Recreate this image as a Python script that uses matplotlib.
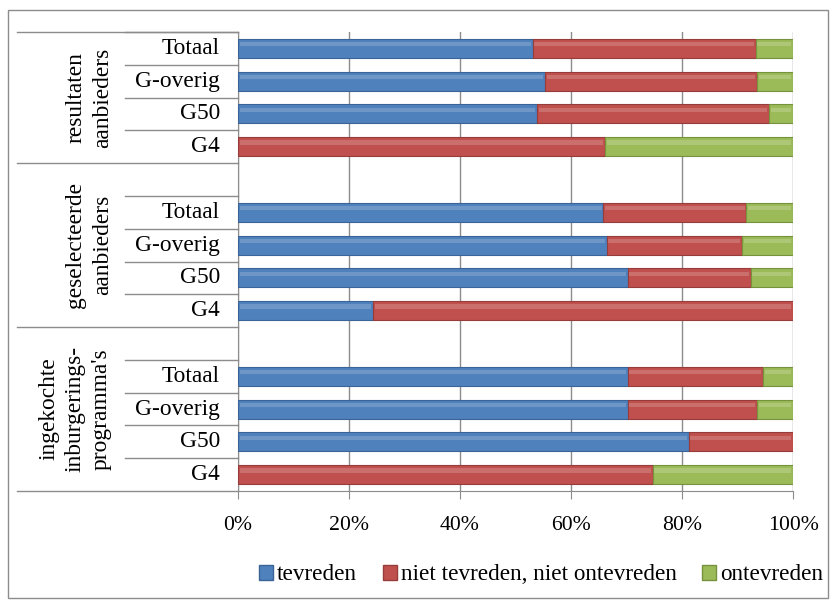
#!/usr/bin/env python3
"""Tevredenheid over aanbieders en inburgeringsprogramma's (stacked bars)."""

import matplotlib

matplotlib.use("Agg")
import matplotlib.pyplot as plt
from matplotlib.patches import Patch, Rectangle

# Data, top to bottom within each group
groups = ["resultaten\naanbieders", "geselecteerde\naanbieders", "ingekochte\ninburgerings-\nprogramma's"]
categories = ["Totaal", "G-overig", "G50", "G4"]
series = ["tevreden", "niet tevreden, niet ontevreden", "ontevreden"]

tevreden = [
    [53.1, 55.3, 53.9, 0.0],
    [65.8, 66.4, 70.2, 24.3],
    [70.2, 70.2, 81.2, 0.0],
]
neutraal = [
    [40.2, 38.2, 41.8, 66.1],
    [25.8, 24.4, 22.2, 75.7],
    [24.4, 23.3, 18.8, 74.7],
]
ontevreden = [
    [6.7, 6.5, 4.3, 33.9],
    [8.4, 9.2, 7.6, 0.0],
    [5.4, 6.5, 0.0, 25.3],
]

COLORS = ["#4f81bd", "#c0504d", "#9bbb59"]
EDGES = ["#3a6398", "#963c3a", "#76923c"]
LINE = "#8c8c8c"
FONT = ["Liberation Serif", "DejaVu Serif"]

plt.rcParams["font.family"] = FONT

W, H = 830, 600
fig = plt.figure(figsize=(W / 100, H / 100), dpi=100)

# plot area in pixels
x0, x1, y_top, y_bot = 238, 793, 32, 491
ax = fig.add_axes([x0 / W, 1 - y_bot / H, (x1 - x0) / W, (y_bot - y_top) / H])

# row layout: group 1 has 4 rows, later groups get an empty row on top
rows = []  # (y_center, group_idx, cat_idx)
group_spans = []
r = 0
for g in range(len(groups)):
    start = r
    if g > 0:
        r += 1
    for c in range(len(categories)):
        rows.append((r + 0.5, g, c))
        r += 1
    group_spans.append((start, r))
n_rows = r

bar_h = 0.58
for y, g, c in rows:
    left = 0.0
    for k, vals in enumerate([tevreden, neutraal, ontevreden]):
        v = vals[g][c]
        if v > 0:
            ax.barh(y, v, left=left, height=bar_h, color=COLORS[k],
                    edgecolor=EDGES[k], linewidth=0.8, zorder=3)
            # light sheen on the upper part of the bar
            ax.barh(y - bar_h * 0.22, v - 0.6, left=left + 0.3, height=bar_h * 0.22,
                    color="white", alpha=0.18, linewidth=0, zorder=4)
        left += v

ax.set_xlim(0, 100)
ax.set_ylim(n_rows, 0)
ax.set_xticks(range(0, 101, 20))
ax.set_xticklabels([f"{t}%" for t in range(0, 101, 20)], fontsize=15.7)
ax.set_yticks([])
ax.grid(axis="x", color=LINE, linewidth=1.0, zorder=0)
ax.tick_params(axis="x", length=6, color=LINE, pad=12)
for side in ["top", "right"]:
    ax.spines[side].set_visible(False)
ax.spines["left"].set_color(LINE)
ax.spines["bottom"].set_color(LINE)

# multi-level category axis
ytr = ax.get_yaxis_transform()
px = lambda p: (p - x0) / (x1 - x0)
inner_x, outer_x, label_x = px(125), px(17), px(220)

for y, g, c in rows:
    ax.text(label_x, y, categories[c], transform=ytr, ha="right", va="center",
            fontsize=16.8, clip_on=False)
    ax.plot([inner_x, 0], [y - 0.5, y - 0.5], transform=ytr, color=LINE,
            linewidth=1.0, clip_on=False)

for g, (s, e) in enumerate(group_spans):
    ax.plot([outer_x, 0], [s, s], transform=ytr, color=LINE, linewidth=1.0, clip_on=False)
    n_lines = groups[g].count("\n") + 1
    gx = px(103 - (n_lines - 1) * 28 / 2)
    ax.text(gx, (s + e) / 2, groups[g], transform=ytr, rotation=90,
            ha="center", va="center", fontsize=16.8, linespacing=1.33,
            multialignment="center", clip_on=False)
ax.plot([outer_x, 0], [n_rows, n_rows], transform=ytr, color=LINE, linewidth=1.0, clip_on=False)

# legend
handles = [Patch(facecolor=COLORS[k], edgecolor=EDGES[k], label=series[k]) for k in range(3)]
fig.legend(handles=handles, loc="center left", bbox_to_anchor=(259 / W, 1 - 575 / H),
           ncol=3, frameon=False, fontsize=16.7, handlelength=0.6, handleheight=0.6,
           handletextpad=0.18, columnspacing=1.1, borderaxespad=0, borderpad=0)

# chart border
fig.patches.append(Rectangle((8 / W, 2 / H), 820 / W, 588 / H, transform=fig.transFigure,
                             fill=False, edgecolor="#8c8c8c", linewidth=1.0))

fig.savefig("out.png", dpi=100)
